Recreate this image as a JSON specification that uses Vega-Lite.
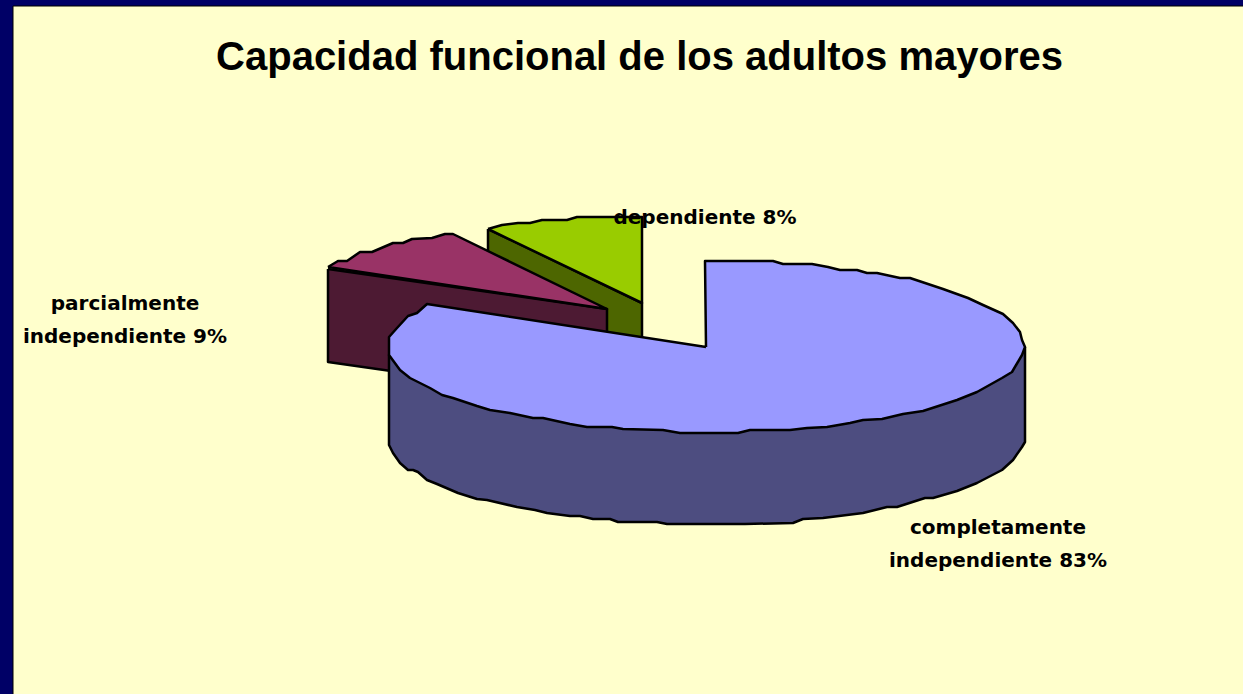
{"$schema":"https://vega.github.io/schema/vega-lite/v6.json","width":1243,"height":694,"padding":0,"autosize":{"type":"none"},"background":"#000066","title":{"text":"Capacidad funcional de los adultos mayores","font":"Liberation Sans","fontSize":40,"fontWeight":"bold","color":"#000000","anchor":"middle","baseline":"alphabetic","offset":0,"dx":18,"dy":110},"view":{"stroke":null},"config":{"axis":{"domain":false,"grid":false,"ticks":false,"labels":false,"title":null}},
"datasets":{"panel":[{"x":13,"x2":1250,"y":6,"y2":700}],
"labels":[{"x":125,"y":304,"label":"parcialmente\nindependiente 9%"},{"x":998,"y":528,"label":"completamente\nindependiente 83%"},{"x":705,"y":218,"label":"dependiente 8%"}],
"faces":[
{"part":"a dependiente lateral","o":0,"x":488,"y":229},{"part":"a dependiente lateral","o":1,"x":642,"y":303},{"part":"a dependiente lateral","o":2,"x":642,"y":400},{"part":"a dependiente lateral","o":3,"x":488,"y":320},{"part":"a dependiente lateral","o":4,"x":488,"y":229},
{"part":"b dependiente","o":0,"x":488,"y":229},{"part":"b dependiente","o":1,"x":502,"y":225},{"part":"b dependiente","o":2,"x":518,"y":223},{"part":"b dependiente","o":3,"x":530,"y":223},{"part":"b dependiente","o":4,"x":542,"y":220},{"part":"b dependiente","o":5,"x":567,"y":220},{"part":"b dependiente","o":6,"x":577,"y":217},{"part":"b dependiente","o":7,"x":642,"y":217},{"part":"b dependiente","o":8,"x":642,"y":303},{"part":"b dependiente","o":9,"x":488,"y":229},
{"part":"c parcial lateral","o":0,"x":328,"y":269},{"part":"c parcial lateral","o":1,"x":607,"y":309},{"part":"c parcial lateral","o":2,"x":607,"y":402},{"part":"c parcial lateral","o":3,"x":328,"y":362},{"part":"c parcial lateral","o":4,"x":328,"y":269},
{"part":"d parcial","o":0,"x":328,"y":267},{"part":"d parcial","o":1,"x":338,"y":261},{"part":"d parcial","o":2,"x":347,"y":261},{"part":"d parcial","o":3,"x":360,"y":252},{"part":"d parcial","o":4,"x":372,"y":252},{"part":"d parcial","o":5,"x":393,"y":243},{"part":"d parcial","o":6,"x":403,"y":243},{"part":"d parcial","o":7,"x":412,"y":239},{"part":"d parcial","o":8,"x":432,"y":238},{"part":"d parcial","o":9,"x":445,"y":234},{"part":"d parcial","o":10,"x":453,"y":234},{"part":"d parcial","o":11,"x":607,"y":309},{"part":"d parcial","o":12,"x":328,"y":267},
{"part":"e completa lateral","o":0,"x":1025,"y":347},{"part":"e completa lateral","o":1,"x":1025,"y":442},{"part":"e completa lateral","o":2,"x":1022,"y":447},{"part":"e completa lateral","o":3,"x":1013,"y":460},{"part":"e completa lateral","o":4,"x":1002,"y":470},{"part":"e completa lateral","o":5,"x":977,"y":483},{"part":"e completa lateral","o":6,"x":957,"y":491},{"part":"e completa lateral","o":7,"x":933,"y":498},{"part":"e completa lateral","o":8,"x":925,"y":498},{"part":"e completa lateral","o":9,"x":897,"y":507},{"part":"e completa lateral","o":10,"x":887,"y":507},{"part":"e completa lateral","o":11,"x":863,"y":513},{"part":"e completa lateral","o":12,"x":847,"y":515},{"part":"e completa lateral","o":13,"x":823,"y":518},{"part":"e completa lateral","o":14,"x":803,"y":519},{"part":"e completa lateral","o":15,"x":793,"y":523},{"part":"e completa lateral","o":16,"x":745,"y":524},{"part":"e completa lateral","o":17,"x":667,"y":524},{"part":"e completa lateral","o":18,"x":657,"y":522},{"part":"e completa lateral","o":19,"x":618,"y":522},{"part":"e completa lateral","o":20,"x":610,"y":519},{"part":"e completa lateral","o":21,"x":593,"y":519},{"part":"e completa lateral","o":22,"x":580,"y":516},{"part":"e completa lateral","o":23,"x":570,"y":516},{"part":"e completa lateral","o":24,"x":547,"y":513},{"part":"e completa lateral","o":25,"x":535,"y":510},{"part":"e completa lateral","o":26,"x":517,"y":507},{"part":"e completa lateral","o":27,"x":487,"y":500},{"part":"e completa lateral","o":28,"x":477,"y":499},{"part":"e completa lateral","o":29,"x":458,"y":493},{"part":"e completa lateral","o":30,"x":437,"y":484},{"part":"e completa lateral","o":31,"x":427,"y":480},{"part":"e completa lateral","o":32,"x":418,"y":472},{"part":"e completa lateral","o":33,"x":413,"y":470},{"part":"e completa lateral","o":34,"x":408,"y":470},{"part":"e completa lateral","o":35,"x":400,"y":463},{"part":"e completa lateral","o":36,"x":393,"y":453},{"part":"e completa lateral","o":37,"x":389,"y":445},{"part":"e completa lateral","o":38,"x":389,"y":355},{"part":"e completa lateral","o":39,"x":1025,"y":347},
{"part":"f completa","o":0,"x":706,"y":347},{"part":"f completa","o":1,"x":705,"y":261},{"part":"f completa","o":2,"x":773,"y":261},{"part":"f completa","o":3,"x":783,"y":264},{"part":"f completa","o":4,"x":812,"y":264},{"part":"f completa","o":5,"x":828,"y":267},{"part":"f completa","o":6,"x":840,"y":270},{"part":"f completa","o":7,"x":857,"y":270},{"part":"f completa","o":8,"x":867,"y":273},{"part":"f completa","o":9,"x":877,"y":273},{"part":"f completa","o":10,"x":900,"y":278},{"part":"f completa","o":11,"x":910,"y":278},{"part":"f completa","o":12,"x":922,"y":282},{"part":"f completa","o":13,"x":943,"y":289},{"part":"f completa","o":14,"x":968,"y":298},{"part":"f completa","o":15,"x":983,"y":305},{"part":"f completa","o":16,"x":1003,"y":314},{"part":"f completa","o":17,"x":1013,"y":323},{"part":"f completa","o":18,"x":1020,"y":332},{"part":"f completa","o":19,"x":1022,"y":340},{"part":"f completa","o":20,"x":1025,"y":347},{"part":"f completa","o":21,"x":1022,"y":355},{"part":"f completa","o":22,"x":1012,"y":372},{"part":"f completa","o":23,"x":1002,"y":378},{"part":"f completa","o":24,"x":977,"y":392},{"part":"f completa","o":25,"x":957,"y":400},{"part":"f completa","o":26,"x":923,"y":411},{"part":"f completa","o":27,"x":903,"y":414},{"part":"f completa","o":28,"x":882,"y":419},{"part":"f completa","o":29,"x":863,"y":420},{"part":"f completa","o":30,"x":850,"y":423},{"part":"f completa","o":31,"x":827,"y":427},{"part":"f completa","o":32,"x":807,"y":428},{"part":"f completa","o":33,"x":790,"y":430},{"part":"f completa","o":34,"x":750,"y":430},{"part":"f completa","o":35,"x":738,"y":433},{"part":"f completa","o":36,"x":680,"y":433},{"part":"f completa","o":37,"x":663,"y":430},{"part":"f completa","o":38,"x":623,"y":429},{"part":"f completa","o":39,"x":612,"y":427},{"part":"f completa","o":40,"x":587,"y":427},{"part":"f completa","o":41,"x":570,"y":424},{"part":"f completa","o":42,"x":543,"y":418},{"part":"f completa","o":43,"x":533,"y":418},{"part":"f completa","o":44,"x":510,"y":413},{"part":"f completa","o":45,"x":490,"y":410},{"part":"f completa","o":46,"x":477,"y":406},{"part":"f completa","o":47,"x":453,"y":398},{"part":"f completa","o":48,"x":442,"y":395},{"part":"f completa","o":49,"x":430,"y":388},{"part":"f completa","o":50,"x":410,"y":378},{"part":"f completa","o":51,"x":400,"y":370},{"part":"f completa","o":52,"x":389,"y":355},{"part":"f completa","o":53,"x":389,"y":337},{"part":"f completa","o":54,"x":397,"y":328},{"part":"f completa","o":55,"x":408,"y":316},{"part":"f completa","o":56,"x":417,"y":313},{"part":"f completa","o":57,"x":427,"y":304},{"part":"f completa","o":58,"x":706,"y":347}
]},
"layer":[
{"data":{"name":"panel"},"mark":{"type":"rect","fill":"#FFFFCC","stroke":"#000000","strokeWidth":1},"encoding":{"x":{"field":"x","type":"quantitative","scale":{"domain":[0,1243],"nice":false,"zero":false},"axis":null},"x2":{"field":"x2"},"y":{"field":"y","type":"quantitative","scale":{"domain":[694,0],"nice":false,"zero":false},"axis":null},"y2":{"field":"y2"}}},
{"data":{"name":"faces"},"mark":{"type":"line","stroke":"#000000","strokeWidth":2.5,"strokeJoin":"round","clip":false},"encoding":{"x":{"field":"x","type":"quantitative","axis":null},"y":{"field":"y","type":"quantitative","axis":null},"order":{"field":"o","type":"quantitative"},"detail":{"field":"part"},"fill":{"field":"part","type":"nominal","legend":null,"scale":{"domain":["a dependiente lateral","b dependiente","c parcial lateral","d parcial","e completa lateral","f completa"],"range":["#4D6600","#99CC00","#4D1A33","#993366","#4D4D80","#9999FF"]}}}},
{"data":{"name":"labels"},"mark":{"type":"text","font":"DejaVu Sans","fontWeight":"bold","fontSize":20,"color":"#000000","align":"center","baseline":"middle","lineBreak":"\n","lineHeight":33},"encoding":{"x":{"field":"x","type":"quantitative","axis":null},"y":{"field":"y","type":"quantitative","axis":null},"text":{"field":"label"}}}
]}
